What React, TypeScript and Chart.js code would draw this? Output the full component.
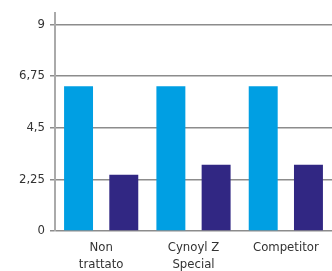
import React, { useEffect, useRef } from "react";
import { Chart, registerables } from "chart.js";

Chart.register(...registerables);

const categories: (string | string[])[] = [["Non", "trattato"], ["Cynoyl Z", "Special"], "Competitor"];
const seriesLight: number[] = [6.3, 6.3, 6.3];
const seriesDark: number[] = [2.45, 2.88, 2.88];
const yTicks: number[] = [0, 2.25, 4.5, 6.75, 9];

const FONT = "'Liberation Sans Narrow', 'DejaVu Sans Condensed', 'Roboto', sans-serif";

export default function App() {
  const ref = useRef<HTMLCanvasElement | null>(null);
  useEffect(() => {
    document.body.style.margin = "0";
    const ctx = ref.current!;
    const chart = new Chart(ctx, {
      type: "bar",
      data: {
        labels: categories,
        datasets: [
          { data: seriesLight, backgroundColor: "#009FE3", barPercentage: 0.64, categoryPercentage: 0.98 },
          { data: seriesDark, backgroundColor: "#312783", barPercentage: 0.64, categoryPercentage: 0.98 },
        ],
      },
      options: {
        animation: false,
        responsive: false,
        maintainAspectRatio: false,
        layout: { padding: { top: 8, right: 0, left: 0, bottom: 0 } },
        plugins: { legend: { display: false }, tooltip: { enabled: false } },
        scales: {
          x: {
            grid: { display: false },
            border: { display: false },
            afterFit: (axis: any) => {
              axis.height = 40;
            },
            ticks: { color: "#333", font: { family: FONT, size: 13, lineHeight: 1.3 }, padding: 0, maxRotation: 0, autoSkip: false },
          },
          y: {
            min: 0,
            max: 9.5,
            afterFit: (axis: any) => {
              axis.width = 55;
            },
            afterBuildTicks: (axis: any) => {
              axis.ticks = yTicks.map((v) => ({ value: v }));
            },
            grid: { color: "#8c8c8c", lineWidth: 1.5, tickLength: 5 },
            border: { display: true, color: "#aaaaaa", width: 2 },
            ticks: {
              color: "#333",
              font: { family: FONT, size: 13 },
              padding: 5,
              callback: (v: any) => String(v).replace(".", ","),
            },
          },
        },
      },
    });
    return () => chart.destroy();
  }, []);
  return <canvas ref={ref} width={332} height={271} style={{ display: "block" }} />;
}
